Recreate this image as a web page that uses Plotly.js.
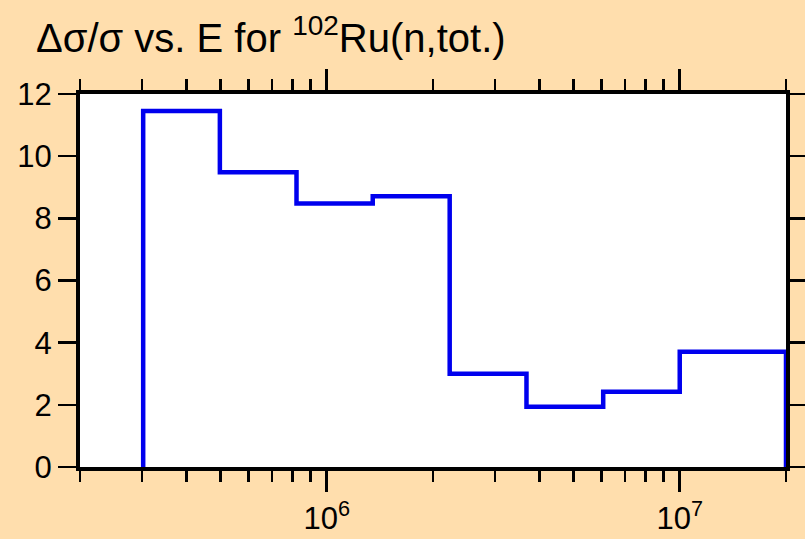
<!DOCTYPE html>
<html>
<head>
<meta charset="utf-8">
<script src="https://cdn.plot.ly/plotly-3.0.1.min.js"></script>
<style>html,body{margin:0;padding:0;background:#FFDEAD;}#chart{width:805px;height:539px;}</style>
</head>
<body>
<div id="chart"></div>
<script>
// Bin edges (eV) and relative uncertainty (%) per bin
const binEdges = [3.02e5, 4.98e5, 8.21e5, 1.35e6, 2.23e6, 3.68e6, 6.07e6, 1.0e7, 2.0e7];
const relUnc = [11.45, 9.48, 8.48, 8.71, 3.0, 1.94, 2.42, 3.71];
const xMajorTicks = [1e6, 1e7];
const xMajorLabels = ["10<sup>6</sup>", "10<sup>7</sup>"];
const xMinorTicks = [2e5,3e5,4e5,5e5,6e5,7e5,8e5,9e5,2e6,3e6,4e6,5e6,6e6,7e6,8e6,9e6,2e7];
const yTicks = [0, 2, 4, 6, 8, 10, 12];

// step outline
const xs = [binEdges[0]];
const ys = [0];
for (let i = 0; i < relUnc.length; i++) { xs.push(binEdges[i]); ys.push(relUnc[i]); }
xs.push(binEdges[binEdges.length - 1]); ys.push(0);

const font = {family: "Liberation Sans, Arial, sans-serif", color: "#000"};

const trace = {
  x: xs, y: ys, type: "scatter", mode: "lines",
  line: {shape: "hv", color: "#0000EE", width: 4.5},
  hoverinfo: "skip", cliponaxis: false
};

const layout = {
  width: 805, height: 539,
  paper_bgcolor: "#FFDEAD",
  plot_bgcolor: "#FFFFFF",
  margin: {l: 80, r: 19, t: 94, b: 72},
  showlegend: false,
  title: {
    text: "\u0394\u03c3/\u03c3 vs. E for <sup>102</sup>Ru(n,tot.)",
    font: Object.assign({}, font, {size: 40}),
    x: 36/805, xref: "container", xanchor: "left",
    y: 1 - 38/539, yref: "container", yanchor: "middle"
  },
  xaxis: {
    type: "log",
    range: [Math.log10(2e5), Math.log10(2e7)],
    tickmode: "array", tickvals: xMajorTicks, ticktext: xMajorLabels,
    ticks: "outside", ticklen: 21, tickwidth: 2.5, tickcolor: "#000",
    minor: {tickmode: "array", tickvals: xMinorTicks, ticks: "outside", ticklen: 11, tickwidth: 2.5, tickcolor: "#000", showgrid: false},
    showline: true, linewidth: 4, linecolor: "#000", mirror: "ticks",
    showgrid: false, zeroline: false,
    tickfont: Object.assign({}, font, {size: 31})
  },
  yaxis: {
    range: [0, 12],
    tickmode: "array", tickvals: yTicks,
    ticks: "outside", ticklen: 18, tickwidth: 2.5, tickcolor: "#000",
    showline: true, linewidth: 4, linecolor: "#000", mirror: "ticks",
    showgrid: false, zeroline: false,
    tickfont: Object.assign({}, font, {size: 31})
  }
};

Plotly.newPlot("chart", [trace], layout, {displayModeBar: false, staticPlot: true});
</script>
</body>
</html>
